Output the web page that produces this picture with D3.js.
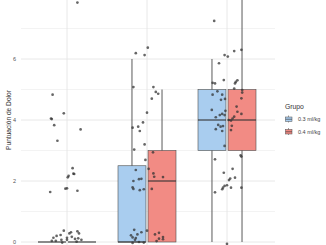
<!DOCTYPE html>
<html>
<head>
<meta charset="utf-8">
<script src="https://cdn.jsdelivr.net/npm/d3@7"></script>
<style>
  body { margin: 0; background: #fff; }
  text { font-family: "Liberation Sans", Arial, sans-serif; }
</style>
</head>
<body>
<div id="chart"></div>
<script>
// ---- data ----
var categories = ['T1', 'T2', 'T3'];
var groups = ['0.3 ml/kg', '0.4 ml/kg'];
var groupColors = ['#a9cdef', '#f28b84'];
var yTicks = [0, 2, 4, 6];
var yMinorTicks = [1, 3, 5, 7];

// box stats per category: [lower whisker, q1, median, q3, upper whisker]
var box03 = [[0, 0, 0, 0, 0], [0, 0, 0, 2.5, 6], [0, 3, 4, 5, 6]];
var box04 = [[0, 0, 0, 0, 0], [0, 0, 2, 3, 5], [0, 3, 4, 5, 8]];

// jittered points per category: [jitter offset (category units), value]
var pts1 = [[0.13, 7.85], [-0.18, 4.83], [-0.04, 4.22], [-0.20, 4.05], [-0.19, 4.03], [-0.16, 3.83],
  [0.17, 3.69], [-0.12, 3.32], [0.07, 2.42], [0.08, 2.24], [0.09, 2.23], [0.02, 2.17], [0.01, 2.12],
  [0.00, 1.76], [-0.02, 1.75], [-0.21, 1.64], [0.13, 1.68], [-0.04, 0.37], [0.03, 0.28], [0.05, 0.32],
  [0.13, 0.35], [0.15, 0.28], [-0.08, 0.23], [-0.13, 0.20], [-0.17, 0.14], [-0.19, 0.04], [-0.14, 0.04],
  [-0.07, 0.07], [0.00, 0.14], [0.06, 0.17], [0.10, 0.10], [0.14, 0.12], [0.18, 0.07], [0.12, 0.01],
  [-0.06, -0.02], [0.00, 0.07]];
var pts2 = [[0.01, 6.37], [-0.14, 6.19], [-0.03, 6.13], [-0.17, 5.08], [0.08, 5.08], [0.11, 4.92],
  [0.14, 4.86], [0.06, 4.70], [0.00, 4.24], [-0.05, 3.92], [-0.11, 3.78], [-0.18, 3.75], [-0.09, 3.64],
  [-0.03, 3.20], [-0.16, 3.03], [0.075, 2.94], [-0.02, 2.69], [-0.14, 2.36], [0.02, 2.40], [0.08, 2.25],
  [0.09, 2.14], [0.20, 2.13], [-0.17, 2.00], [-0.07, 2.07], [-0.10, 2.06], [-0.18, 1.79], [-0.17, 1.74],
  [-0.09, 1.70], [-0.04, 1.73], [0.06, 1.74], [-0.16, 0.40], [-0.12, 0.25], [-0.07, 0.32], [-0.20, 0.22],
  [-0.18, 0.15], [-0.14, 0.13], [-0.15, 0.07], [-0.18, -0.03], [0.00, 0.37], [0.15, 0.30], [0.10, 0.25],
  [0.20, 0.16], [0.15, 0.11], [0.20, 0.09], [0.12, 0.03], [-0.04, -0.02], [-0.10, 0.00]];
var pts3 = [[-0.16, 7.25], [-0.03, 6.13], [0.01, 6.08], [0.09, 6.26], [0.18, 6.30], [-0.10, 5.86],
  [-0.18, 5.22], [-0.15, 5.20], [-0.04, 5.31], [0.11, 5.25], [0.13, 5.30], [0.10, 5.20], [0.09, 5.03],
  [0.19, 4.98], [-0.18, 4.83], [-0.12, 4.94], [-0.06, 4.83], [-0.075, 4.66], [-0.025, 4.69], [-0.19, 4.33],
  [-0.09, 4.16], [-0.14, 4.09], [-0.06, 4.20], [-0.03, 4.16], [-0.02, 4.30], [-0.05, 3.80], [-0.08, 3.78],
  [-0.14, 3.70], [-0.06, 3.64], [-0.11, 3.84], [-0.03, 3.15], [0.19, 4.90], [0.18, 4.71], [0.12, 4.44],
  [0.13, 4.27], [0.18, 4.20], [0.09, 4.11], [0.07, 4.05], [0.05, 3.98], [0.06, 3.81], [0.05, 3.67],
  [0.02, 4.00], [-0.15, 2.71], [0.17, 2.84], [0.18, 2.80], [-0.04, 2.27], [0.07, 2.40], [0.04, 2.08],
  [0.025, 2.03], [0.00, 1.86], [-0.03, 1.84], [-0.05, 1.78], [-0.06, 1.73], [0.05, 1.78], [0.10, 2.11],
  [-0.15, 1.63], [0.18, 1.78], [0.00, -0.06]];

// ---- layout ----
var width = 326, height = 245;
var panelLeft = 21, panelRight = 275;

var svg = d3.select('#chart').append('svg')
  .attr('width', width)
  .attr('height', height);

var x = d3.scalePoint().domain(categories).range([67, 227]);
var step = x.step();
var dodge = d3.scaleBand().domain(groups).range([-29, 29]).paddingInner(0.07);
var y = d3.scaleLinear().domain([0, 8]).range([242, -2]);

// grid
svg.append('g').selectAll('line.minor').data(yMinorTicks).enter().append('line')
  .attr('x1', panelLeft).attr('x2', panelRight)
  .attr('y1', function(d) { return y(d); }).attr('y2', function(d) { return y(d); })
  .attr('stroke', '#ebebeb').attr('stroke-width', 0.6);
svg.append('g').selectAll('line.major').data(yTicks).enter().append('line')
  .attr('x1', panelLeft).attr('x2', panelRight)
  .attr('y1', function(d) { return y(d); }).attr('y2', function(d) { return y(d); })
  .attr('stroke', '#e5e5e5').attr('stroke-width', 0.9);
svg.append('g').selectAll('line').data(categories).enter().append('line')
  .attr('x1', function(d) { return x(d); }).attr('x2', function(d) { return x(d); })
  .attr('y1', 0).attr('y2', height)
  .attr('stroke', '#e5e5e5').attr('stroke-width', 0.9);

// y tick labels
svg.append('g').selectAll('text').data(yTicks).enter().append('text')
  .attr('x', 16).attr('y', function(d) { return y(d); })
  .attr('dy', '0.35em').attr('text-anchor', 'end')
  .attr('font-size', 5.5).attr('fill', '#555')
  .text(function(d) { return d; });

svg.append('text')
  .attr('transform', 'translate(9,' + y(4) + ') rotate(-90)')
  .attr('text-anchor', 'middle').attr('dy', '0.35em')
  .attr('font-size', 6.6).attr('fill', '#333')
  .text('Puntuación de Dolor');

// boxes
var boxData = [];
categories.forEach(function(c, i) {
  boxData.push({cat: c, grp: groups[0], col: groupColors[0], s: box03[i]});
  boxData.push({cat: c, grp: groups[1], col: groupColors[1], s: box04[i]});
});

var boxes = svg.append('g').selectAll('g').data(boxData).enter().append('g')
  .attr('transform', function(d) { return 'translate(' + (x(d.cat) + dodge(d.grp)) + ',0)'; });
var bw = dodge.bandwidth();

boxes.append('line')
  .attr('x1', bw / 2).attr('x2', bw / 2)
  .attr('y1', function(d) { return y(d.s[0]); }).attr('y2', function(d) { return y(d.s[4]); })
  .attr('stroke', '#5a5a5a').attr('stroke-width', 1);
boxes.append('rect')
  .attr('x', 0).attr('width', bw)
  .attr('y', function(d) { return y(d.s[3]); })
  .attr('height', function(d) { return y(d.s[1]) - y(d.s[3]); })
  .attr('fill', function(d) { return d.col; })
  .attr('stroke', '#4d4d4d').attr('stroke-width', 0.6);
boxes.append('line')
  .attr('x1', 0).attr('x2', bw)
  .attr('y1', function(d) { return y(d.s[2]); }).attr('y2', function(d) { return y(d.s[2]); })
  .attr('stroke', '#333').attr('stroke-width', 1.1);

// jitter points
var allPts = [];
[pts1, pts2, pts3].forEach(function(arr, i) {
  arr.forEach(function(p) { allPts.push({cat: categories[i], dx: p[0], v: p[1]}); });
});
svg.append('g').selectAll('circle').data(allPts).enter().append('circle')
  .attr('cx', function(d) { return x(d.cat) + d.dx * step; })
  .attr('cy', function(d) { return y(d.v); })
  .attr('r', 1.35)
  .attr('fill', '#333').attr('fill-opacity', 0.75);

// legend
var legend = svg.append('g').attr('transform', 'translate(285,0)');
legend.append('text').attr('x', 0).attr('y', 109)
  .attr('font-size', 6.8).attr('fill', '#333').text('Grupo');
var items = legend.selectAll('g').data(groups).enter().append('g')
  .attr('transform', function(d, i) { return 'translate(0,' + (116 + i * 12.5) + ')'; });
items.append('line').attr('x1', 3.5).attr('x2', 3.5).attr('y1', -0.5).attr('y2', 6.5)
  .attr('stroke', '#5a5a5a').attr('stroke-width', 0.6);
items.append('rect').attr('x', 0.5).attr('y', 1).attr('width', 6.5).attr('height', 4.5)
  .attr('fill', function(d, i) { return groupColors[i]; })
  .attr('stroke', '#4d4d4d').attr('stroke-width', 0.5);
items.append('line').attr('x1', 0.5).attr('x2', 7).attr('y1', 3.25).attr('y2', 3.25)
  .attr('stroke', '#333').attr('stroke-width', 0.6);
items.append('text').attr('x', 13).attr('y', 3.25).attr('dy', '0.35em')
  .attr('font-size', 5.5).attr('fill', '#444')
  .text(function(d) { return d; });
</script>
</body>
</html>
